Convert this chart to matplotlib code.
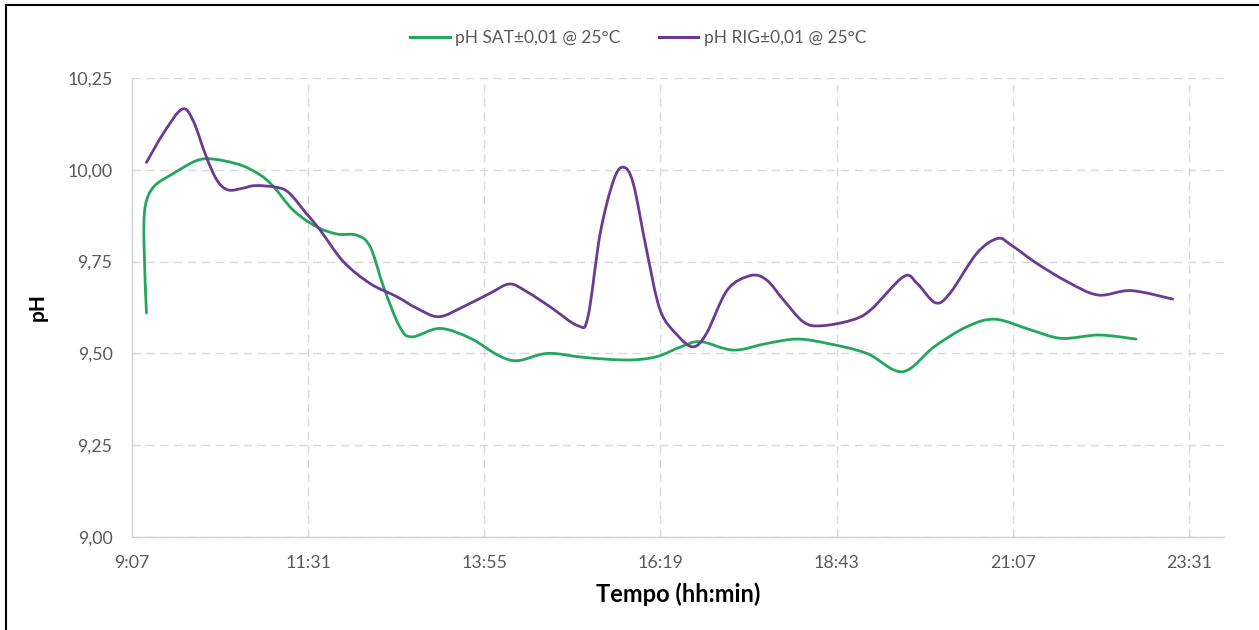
import matplotlib
matplotlib.use('Agg')
import matplotlib.pyplot as plt
from matplotlib.path import Path
from matplotlib.patches import PathPatch
from matplotlib.lines import Line2D
from matplotlib.ticker import FixedLocator, FuncFormatter

# pH SAT readings (time hh:mm, pH)
sat_time = ["9:19", "9:17", "9:18", "9:25", "9:41", "10:00", "10:14", "10:36", "10:52", "11:03",
            "11:19", "11:38", "11:55", "12:11", "12:22", "12:33", "12:46", "12:56", "13:19", "13:44",
            "14:06", "14:22", "14:47", "15:17", "15:52", "16:16", "16:36", "16:52", "17:19", "17:46",
            "18:11", "18:36", "19:08", "19:37", "20:03", "20:30", "20:53", "21:22", "21:47", "22:18",
            "22:48"]
sat_ph = [9.61, 9.80, 9.90, 9.954, 9.99, 10.025, 10.029, 10.013, 9.986, 9.954,
          9.89, 9.845, 9.825, 9.822, 9.79, 9.68, 9.573, 9.545, 9.568, 9.541,
          9.496, 9.48, 9.50, 9.489, 9.482, 9.491, 9.518, 9.532, 9.509, 9.527,
          9.539, 9.527, 9.50, 9.45, 9.518, 9.573, 9.593, 9.564, 9.541, 9.55,
          9.539]

# pH RIG readings
rig_time = ["9:19", "9:33", "9:48", "9:57", "10:08", "10:17", "10:26", "10:38", "10:48", "11:06",
            "11:16", "11:30", "11:41", "12:00", "12:22", "12:44", "13:00", "13:18", "13:38", "14:00",
            "14:16", "14:30", "14:49", "15:12", "15:20", "15:30", "15:41", "15:49", "15:57", "16:08",
            "16:19", "16:33", "16:46", "16:57", "17:14", "17:33", "17:46", "18:00", "18:16", "18:30",
            "18:55", "19:11", "19:38", "19:49", "20:04", "20:16", "20:38", "20:55", "21:06", "21:27",
            "21:52", "22:17", "22:44", "23:18"]
rig_ph = [10.02, 10.10, 10.165, 10.135, 10.035, 9.97, 9.945, 9.95, 9.957, 9.952,
          9.936, 9.88, 9.836, 9.75, 9.69, 9.654, 9.623, 9.60, 9.627, 9.664,
          9.689, 9.668, 9.627, 9.575, 9.60, 9.827, 9.972, 10.007, 9.963, 9.78,
          9.618, 9.55, 9.518, 9.555, 9.673, 9.712, 9.70, 9.645, 9.586, 9.575,
          9.59, 9.618, 9.709, 9.691, 9.638, 9.664, 9.773, 9.813, 9.795, 9.745,
          9.695, 9.659, 9.671, 9.648]

y_ticks = [9.00, 9.25, 9.50, 9.75, 10.00, 10.25]
x_ticks = [0.38, 0.48, 0.58, 0.68, 0.78, 0.88, 0.98]


def day_frac(s):
    h, m = s.split(':')
    return (int(h) * 60 + int(m)) / 1440


def smooth_path(xs, ys):
    # Excel-style smoothed line: Catmull-Rom segments as cubic Beziers
    pts = list(zip(xs, ys))
    verts = [pts[0]]
    codes = [Path.MOVETO]
    n = len(pts)
    for i in range(n - 1):
        p0 = pts[i - 1] if i > 0 else pts[i]
        p1 = pts[i]
        p2 = pts[i + 1]
        p3 = pts[i + 2] if i + 2 < n else pts[i + 1]
        c1 = (p1[0] + (p2[0] - p0[0]) / 6, p1[1] + (p2[1] - p0[1]) / 6)
        c2 = (p2[0] - (p3[0] - p1[0]) / 6, p2[1] - (p3[1] - p1[1]) / 6)
        verts += [c1, c2, p2]
        codes += [Path.CURVE4] * 3
    return Path(verts, codes)


green = '#24a65c'
purple = '#6b3a92'
grey_txt = '#595959'

plt.rcParams['font.family'] = ['Lato', 'DejaVu Sans']

fig = plt.figure(figsize=(12.59, 6.30), dpi=100)
ax = fig.add_axes([132 / 1259, 1 - 537 / 630, (1224 - 132) / 1259, (537 - 78) / 630])

sat_x = [day_frac(t) for t in sat_time]
rig_x = [day_frac(t) for t in rig_time]
ax.add_patch(PathPatch(smooth_path(sat_x, sat_ph), fill=False, edgecolor=green, lw=2.0,
                       capstyle='round', joinstyle='round', zorder=3))
ax.add_patch(PathPatch(smooth_path(rig_x, rig_ph), fill=False, edgecolor=purple, lw=2.0,
                       capstyle='round', joinstyle='round', zorder=3))

ax.set_xlim(0.38, 1.0)
ax.set_ylim(9.0, 10.25)
ax.xaxis.set_major_locator(FixedLocator(x_ticks))
ax.yaxis.set_major_locator(FixedLocator(y_ticks))


def fmt_time(v, pos):
    mins = int(round(v * 1440))
    return f"{mins // 60}:{mins % 60:02d}"


ax.xaxis.set_major_formatter(FuncFormatter(fmt_time))
ax.yaxis.set_major_formatter(FuncFormatter(lambda v, p: f"{v:.2f}".replace('.', ',')))

ax.grid(True, color='#d9d9d9', linestyle=(0, (6, 4)), linewidth=1.0)
ax.set_axisbelow(True)
for side in ['top', 'right']:
    ax.spines[side].set_visible(False)
for side in ['left', 'bottom']:
    ax.spines[side].set_color('#d0d0d0')
    ax.spines[side].set_linewidth(1.0)
ax.tick_params(axis='both', length=0, labelsize=12.8, labelcolor=grey_txt)
ax.tick_params(axis='x', pad=13)
ax.tick_params(axis='y', pad=14)
# first x gridline coincides with the left spine
ax.get_xgridlines()[0].set_visible(False)

ax.set_xlabel('Tempo (hh:min)', fontsize=17, fontweight='bold', color='black', labelpad=8)
ax.set_ylabel('pH', fontsize=15, fontweight='bold', color='black', labelpad=14)

handles = [Line2D([], [], color=green, lw=2.2), Line2D([], [], color=purple, lw=2.2)]
labels = ['pH SAT±0,01 @ 25°C', 'pH RIG±0,01 @ 25°C']
fig.legend(handles, labels, loc='center', bbox_to_anchor=(638 / 1259, 1 - 38 / 630), ncol=2,
           frameon=False, fontsize=12.5, labelcolor=grey_txt, handlelength=2.3,
           handletextpad=0.3, columnspacing=2.2)

# outer border (partly cropped in the reference)
fig.add_artist(Line2D([6 / 1259, 6 / 1259], [0, 1 - 5 / 630], color='black', lw=1.5))
fig.add_artist(Line2D([6 / 1259, 1], [1 - 5 / 630, 1 - 5 / 630], color='black', lw=1.5))

fig.savefig('out.png', dpi=100)
